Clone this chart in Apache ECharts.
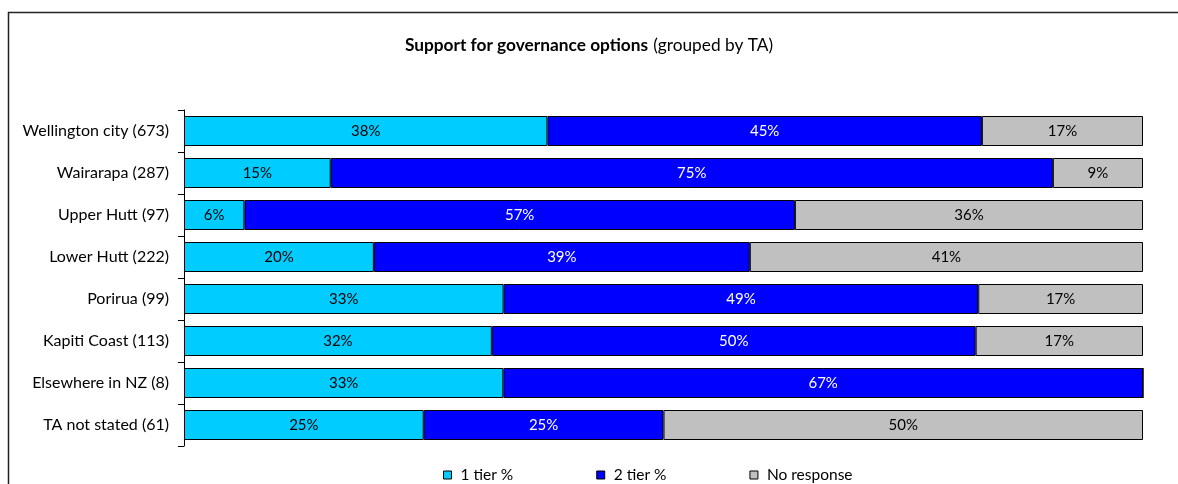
<!DOCTYPE html>
<html>
<head>
<meta charset="utf-8">
<script src="https://cdn.jsdelivr.net/npm/echarts@6/dist/echarts.min.js"></script>
<style>
  html, body { margin: 0; padding: 0; background: #fff; }
  #chart { width: 1178px; height: 484px; }
</style>
</head>
<body>
<div id="chart"></div>
<script>
// Territorial authorities, with respondent counts
const categories = [
  'Wellington city (673)',
  'Wairarapa (287)',
  'Upper Hutt (97)',
  'Lower Hutt (222)',
  'Porirua (99)',
  'Kapiti Coast (113)',
  'Elsewhere in NZ (8)',
  'TA not stated (61)'
];

// Share of respondents (%) per option
const oneTier    = [37.9, 15.3,  6.3, 19.8, 33.33, 32.1,  33.3, 25];
const twoTier    = [45.3, 75.3, 57.4, 39.2, 49.49, 50.45, 66.7, 25];
const noResponse = [16.8,  9.4, 36.3, 41.0, 17.18, 17.45,  0,   50];

const seriesNames = ['1 tier %', '2 tier %', 'No response'];
const FONT = 'Lato, "Noto Sans", sans-serif';

const chart = echarts.init(document.getElementById('chart'), null, { renderer: 'canvas' });

function barSeries(name, data, color, labelColor) {
  return {
    name: name,
    type: 'bar',
    stack: 'total',
    data: data,
    barWidth: 30,
    itemStyle: { color: color, borderColor: '#000', borderWidth: 1 },
    label: {
      show: true,
      position: 'inside',
      color: labelColor,
      fontFamily: FONT,
      fontSize: 15,
      formatter: p => (p.value > 0 ? Math.round(p.value) + '%' : '')
    },
    emphasis: { disabled: true }
  };
}

chart.setOption({
  animation: false,
  backgroundColor: '#fff',
  title: {
    text: '{b|Support for governance options} {n|(grouped by TA)}',
    left: 'center',
    top: 31,
    textStyle: {
      fontWeight: 'normal',
      rich: {
        b: { fontFamily: FONT, fontSize: 17.3, fontWeight: 'bold', color: '#000' },
        n: { fontFamily: FONT, fontSize: 17.3, fontWeight: 'normal', color: '#000' }
      }
    }
  },
  legend: {
    data: seriesNames,
    left: 443,
    top: 467,
    padding: 0,
    itemWidth: 8,
    itemHeight: 8,
    itemGap: 83,
    icon: 'rect',
    selectedMode: false,
    textStyle: { fontFamily: FONT, fontSize: 15.5, color: '#000', padding: [0, 0, 0, 4] },
    itemStyle: { borderColor: '#000', borderWidth: 1 }
  },
  grid: { left: 184, right: 35, top: 110, bottom: 38, containLabel: false },
  xAxis: {
    type: 'value',
    min: 0,
    max: 100,
    show: false
  },
  yAxis: {
    type: 'category',
    data: categories,
    inverse: true,
    axisLine: { show: true, lineStyle: { color: '#000', width: 1 } },
    axisTick: { show: true, length: 6, alignWithLabel: false, lineStyle: { color: '#000' } },
    axisLabel: { fontFamily: FONT, fontSize: 16, color: '#000', margin: 15 },
    splitLine: { show: false }
  },
  series: [
    barSeries(seriesNames[0], oneTier, '#00CCFF', '#000'),
    barSeries(seriesNames[1], twoTier, '#0000FF', '#fff'),
    barSeries(seriesNames[2], noResponse, '#C0C0C0', '#000')
  ],
  graphic: [
    {
      type: 'rect',
      silent: true,
      z: 100,
      shape: { x: 8.5, y: 12.5, width: 1200, height: 600 },
      style: { fill: null, stroke: '#222', lineWidth: 1.5 }
    }
  ]
});
</script>
</body>
</html>
